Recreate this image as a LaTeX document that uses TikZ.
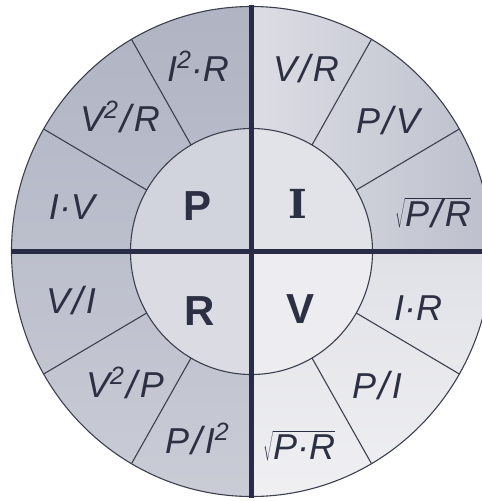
\documentclass[tikz,border=0pt]{standalone}
\usepackage{fontspec}
\usetikzlibrary{calc}
\setmainfont{Liberation Sans}
\newfontfamily\slabfont{DejaVu Serif}
\newcommand\slsh{\kern2.5pt\raisebox{-1.5pt}{\fontsize{39}{39}\selectfont/}\kern2.5pt}
\newcommand\sqd{\raisebox{0.36em}{\fontsize{25}{25}\selectfont 2}}
\definecolor{txt}{RGB}{45,48,66}
\definecolor{axc}{RGB}{40,44,70}
\definecolor{sepc}{RGB}{60,64,78}
\definecolor{qTLa}{RGB}{176,179,194}
\definecolor{qTLb}{RGB}{188,191,204}
\definecolor{qBLa}{RGB}{188,191,204}
\definecolor{qBLb}{RGB}{202,204,214}
\definecolor{qTRa}{RGB}{220,221,228}
\definecolor{qTRb}{RGB}{190,193,205}
\definecolor{qBRa}{RGB}{224,225,231}
\definecolor{qBRb}{RGB}{240,240,243}
\definecolor{iTL}{RGB}{210,212,221}
\definecolor{iTR}{RGB}{226,227,233}
\definecolor{iBL}{RGB}{218,219,227}
\definecolor{iBR}{RGB}{237,237,241}
\begin{document}
\begin{tikzpicture}[x=1pt,y=-1pt,
  form/.style={text=txt, font=\fontsize{36}{40}\selectfont\itshape, inner sep=0pt, anchor=base},
  big/.style={text=txt, font=\fontsize{42}{46}\selectfont\bfseries, inner sep=0pt, anchor=base},
  sepline/.style={draw=sepc, line width=1.1pt},
  axisline/.style={draw=axc, line width=5pt}]
\useasboundingbox (0,0) rectangle (482,501);
\fill[white] (0,0) rectangle (482,501);
\clip (0,0) rectangle (482,501);
\coordinate (c) at (251.5,251.5);
% outer disc quadrants
\begin{scope}
  \clip (c) ellipse [x radius=240, y radius=245];
  \shade[top color=qTLa, bottom color=qTLb] (0,0) rectangle (251.5,251.5);
  \shade[top color=qBLa, bottom color=qBLb] (0,251.5) rectangle (251.5,501);
  \shade[left color=qTRa, right color=qTRb] (251.5,0) rectangle (482,251.5);
  \shade[top color=qBRa, bottom color=qBRb] (251.5,251.5) rectangle (482,501);
\end{scope}
% inner disc quadrants
\begin{scope}
  \clip (c) ellipse [x radius=121, y radius=123];
  \fill[iTL] (120,120) rectangle (251.5,251.5);
  \fill[iBL] (120,251.5) rectangle (251.5,380);
  \fill[iTR] (251.5,120) rectangle (380,251.5);
  \fill[iBR] (251.5,251.5) rectangle (380,380);
\end{scope}
\draw[sepline] (c) ellipse [x radius=240, y radius=245];
\draw[sepline] (c) ellipse [x radius=121, y radius=123];
% radial separators
\foreach \a in {30,60,120,150,210,240,300,330}{
  \draw[sepline] ($(c)+(\a:121 and 123)$) -- ($(c)+(\a:240 and 245)$);
}
% axes
\coordinate (hl) at (11,251.5);
\coordinate (hr) at (482,251.5);
\coordinate (vt) at (251.5,5);
\coordinate (vb) at (251.5,498);
\draw[axisline] (hl) -- (hr);
\draw[axisline] (vt) -- (vb);
% centre letters
\node[big] (nP) at (198,220) {P};
\node[big, font=\fontsize{40}{44}\selectfont\slabfont\bfseries] (nI) at (298,218) {I};
\node[big] (nR) at (200,325) {R};
\node[big] (nV) at (301,323) {V};
% formulas
\node[form] (f1) at (198,81) {I\sqd·R};
\node[form] (f2) at (120,131) {V\sqd\slsh R};
\node[form] (f3) at (72,219) {I·V};
\node[form] (f4) at (306,81) {V\slsh R};
\node[form] (f5) at (388,133) {P\slsh V};
\node[form] (f6) at (433,226) {$\sqrt{\hbox{\itshape P\slsh R}}$};
\node[form] (f7) at (71,313) {V\slsh I};
\node[form] (f8) at (125,397) {V\sqd\slsh P};
\node[form] (f9) at (197,453) {P\slsh I\sqd};
\node[form] (f10) at (418,320) {I·R};
\node[form] (f11) at (377,398) {P\slsh I};
\node[form] (f12) at (299,459) {$\sqrt{\hbox{\itshape P·R}}$};
\end{tikzpicture}
\end{document}
